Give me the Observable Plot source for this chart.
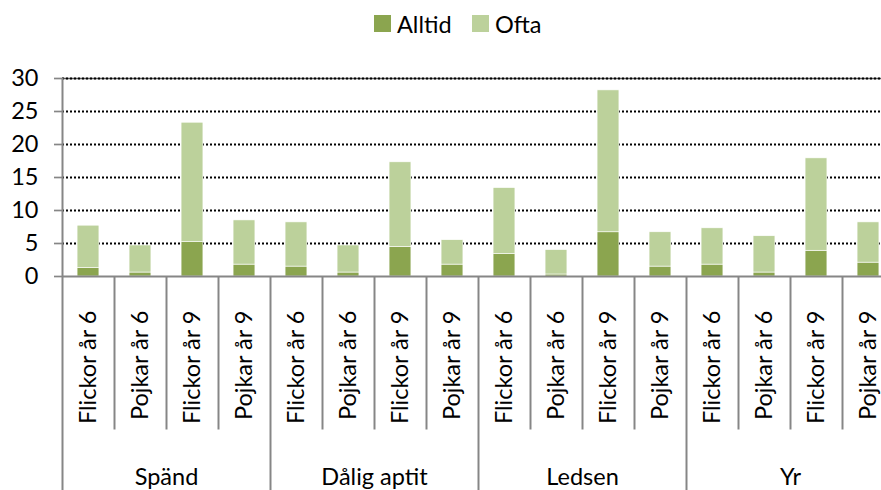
<!DOCTYPE html>
<html>
<head>
<meta charset="utf-8">
<script src="https://cdn.jsdelivr.net/npm/d3@7"></script>
<script src="https://cdn.jsdelivr.net/npm/@observablehq/plot@0.6"></script>
<style>
  html, body { margin: 0; padding: 0; background: #fff; overflow: hidden; }
  #wrap { position: relative; width: 881px; height: 490px; font-family: Lato, "Open Sans", sans-serif; }
  #legend { position: relative; height: 52px; }
  .sw { position: absolute; top: 15px; width: 17px; height: 17px; }
  .lt { position: absolute; top: 10px; font-size: 23.5px; line-height: 28px; color: #000; white-space: nowrap; }
  #chart svg { display: block; }
</style>
</head>
<body>
<div id="wrap">
  <div id="legend"></div>
  <div id="chart"></div>
</div>
<script>
const groups = ["Spänd", "Dålig aptit", "Ledsen", "Yr"];
const subgroups = ["Flickor år 6", "Pojkar år 6", "Flickor år 9", "Pojkar år 9"];
const seriesNames = ["Alltid", "Ofta"];
const alltid = [1.3, 0.6, 5.2, 1.8,  1.5, 0.6, 4.5, 1.8,  3.4, 0.3, 6.7, 1.5,  1.8, 0.6, 3.9, 2.1];
const ofta   = [6.4, 4.1, 18.1, 6.7, 6.7, 4.1, 12.8, 3.7, 10.0, 3.7, 21.5, 5.2, 5.5, 5.5, 14.0, 6.1];
const yTicks = [0, 5, 10, 15, 20, 25, 30];
const colors = ["#8ba54f", "#bcd19b"];

// build rows
const cats = [];
groups.forEach((g, gi) => subgroups.forEach((s, si) => cats.push({i: gi * subgroups.length + si, group: g, sub: s})));
const rows = [];
seriesNames.forEach((name, k) => {
  const vals = k === 0 ? alltid : ofta;
  cats.forEach(c => rows.push({...c, series: name, value: vals[c.i]}));
});
const nCat = cats.length;
const groupBounds = d3.range(0, nCat + 1, subgroups.length);
const catBounds = d3.range(1, nCat).filter(b => b % subgroups.length !== 0);

// legend
const legend = document.getElementById("legend");
const legPos = [[374, 397], [472, 495]];
seriesNames.forEach((name, k) => {
  const sw = document.createElement("div");
  sw.className = "sw"; sw.style.left = legPos[k][0] + "px"; sw.style.background = colors[k];
  const t = document.createElement("div");
  t.className = "lt"; t.style.left = legPos[k][1] + "px"; t.textContent = name;
  legend.appendChild(sw); legend.appendChild(t);
});

const W = 881, H = 438;
const mTop = 26, mBottom = 214, mLeft = 62, mRight = -13;
const barPad = 0.29;
const FS = 23.5;

const chart = Plot.plot({
  width: W, height: H,
  marginTop: mTop, marginBottom: mBottom, marginLeft: mLeft, marginRight: mRight,
  style: {fontFamily: "Lato, 'Open Sans', sans-serif", fontSize: FS + "px", color: "#000", background: "#fff", overflow: "visible"},
  x: {type: "linear", domain: [0, nCat], axis: null},
  y: {domain: [0, 30], axis: null},
  color: {domain: seriesNames, range: colors},
  marks: [
    // gridlines
    Plot.ruleY([30], {stroke: "#555", strokeWidth: 1.5}),
    Plot.ruleY(yTicks.filter(t => t > 0), {stroke: "#000", strokeWidth: 2, strokeDasharray: "2,2"}),
    // bars
    Plot.rectY(rows, {x1: d => d.i + barPad, x2: d => d.i + 1 - barPad, y: "value", fill: "series", stroke: "#fff", strokeWidth: 0.6}),
    // x axis baseline
    Plot.ruleY([0], {stroke: "#868686", strokeWidth: 2}),
    // left axis line, extends down through label area
    Plot.ruleX([0], {stroke: "#868686", strokeWidth: 2, insetBottom: -mBottom}),
    // group separators
    Plot.ruleX(groupBounds.slice(1), {y1: 0, y2: 0, stroke: "#868686", strokeWidth: 2, insetBottom: -mBottom}),
    // category separators
    Plot.ruleX(catBounds, {y1: 0, y2: 0, stroke: "#868686", strokeWidth: 2, insetBottom: -153.5}),
    // y axis
    Plot.axisY(yTicks, {label: null, tickSize: 8, tickPadding: 16, stroke: "#868686", strokeWidth: 1.7, fontSize: FS, fill: "#000"}),
    // category labels
    Plot.text(cats, {x: d => d.i + 0.5, y: 0, dy: 34, text: "sub", rotate: -90, textAnchor: "end", fontSize: FS, fill: "#000"}),
    // group labels
    Plot.text(groups, {x: (d, i) => i * subgroups.length + subgroups.length / 2, y: 0, dy: 201, text: d => d, fontSize: FS, fill: "#000"})
  ]
});
document.getElementById("chart").appendChild(chart);
</script>
</body>
</html>
